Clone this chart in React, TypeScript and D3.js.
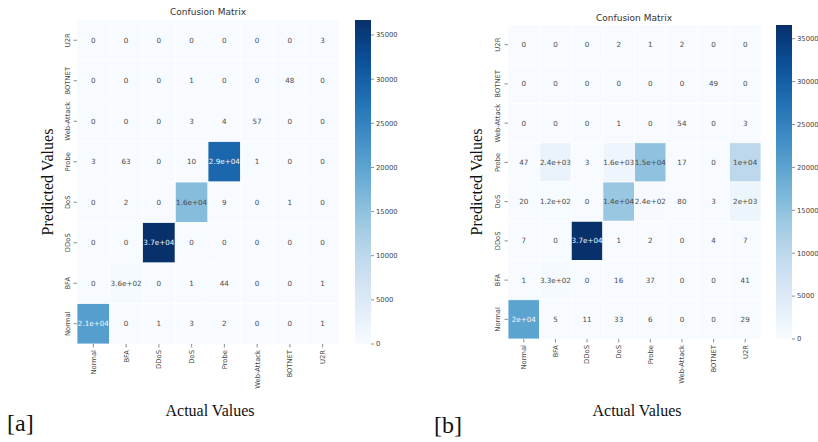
import React from "react";
import * as d3 from "d3";

const actualLabels = ["Normal", "BFA", "DDoS", "DoS", "Probe", "Web-Attack", "BOTNET", "U2R"];
const predictedLabels = ["U2R", "BOTNET", "Web-Attack", "Probe", "DoS", "DDoS", "BFA", "Normal"];
const colorbarTicks = [0, 5000, 10000, 15000, 20000, 25000, 30000, 35000];

// rows: predicted (top to bottom), cols: actual
const matrixA = [
  [0, 0, 0, 0, 0, 0, 0, 3],
  [0, 0, 0, 1, 0, 0, 48, 0],
  [0, 0, 0, 3, 4, 57, 0, 0],
  [3, 63, 0, 10, 28900, 1, 0, 0],
  [0, 2, 0, 15800, 9, 0, 1, 0],
  [0, 0, 36700, 0, 0, 0, 0, 0],
  [0, 360, 0, 1, 44, 0, 0, 1],
  [20900, 0, 1, 3, 2, 0, 0, 1],
];
const matrixB = [
  [0, 0, 0, 2, 1, 2, 0, 0],
  [0, 0, 0, 0, 0, 0, 49, 0],
  [0, 0, 0, 1, 0, 54, 0, 3],
  [47, 2400, 3, 1600, 15000, 17, 0, 10000],
  [20, 120, 0, 14000, 240, 80, 3, 2000],
  [7, 0, 36600, 1, 2, 0, 4, 7],
  [1, 330, 0, 16, 37, 0, 0, 41],
  [20000, 5, 11, 33, 6, 0, 0, 29],
];

function fmt2g(v: number): string {
  if (v === 0) return "0";
  const ex = v.toExponential(1);
  const [m, e] = ex.split("e");
  const en = parseInt(e, 10);
  if (en < -4 || en >= 2) {
    const mant = m.replace(/\.0$/, "");
    const sign = en < 0 ? "-" : "+";
    const abs = Math.abs(en);
    return `${mant}e${sign}${abs < 10 ? "0" + abs : abs}`;
  }
  let s = v.toPrecision(2);
  if (s.includes(".")) s = s.replace(/0+$/, "").replace(/\.$/, "");
  return s;
}

function luminance(c: string): number {
  const rgb = d3.rgb(c);
  const lin = (x: number) => {
    const s = x / 255;
    return s <= 0.03928 ? s / 12.92 : Math.pow((s + 0.055) / 1.055, 2.4);
  };
  return 0.2126 * lin(rgb.r) + 0.7152 * lin(rgb.g) + 0.0722 * lin(rgb.b);
}

const sans = "DejaVu Sans, sans-serif";
const serif = "Liberation Serif, Times New Roman, serif";

type PanelProps = {
  id: string;
  data: number[][];
  left: number;
  top: number;
  width: number;
  height: number;
  cbX: number;
  cbW: number;
  titleX: number;
  titleY: number;
  ylabX: number;
  yTitleX: number;
  xTitleX: number;
  tag: string;
  tagX: number;
  tagY: number;
};

function Panel(p: PanelProps) {
  const vmax = d3.max(p.data.flat()) as number;
  const color = d3.scaleSequential(d3.interpolateBlues).domain([0, vmax]);
  const x = d3.scaleBand<string>().domain(actualLabels).range([p.left, p.left + p.width]);
  const y = d3.scaleBand<string>().domain(predictedLabels).range([p.top, p.top + p.height]);
  const cbY = d3.scaleLinear().domain([0, vmax]).range([p.top + p.height, p.top]);
  const stops = d3.range(0, 1.0001, 0.05);
  const bottom = p.top + p.height;
  return (
    <g>
      <defs>
        <linearGradient id={`grad-${p.id}`} x1="0" y1="1" x2="0" y2="0">
          {stops.map((t) => (
            <stop key={t} offset={t} stopColor={d3.interpolateBlues(t)} />
          ))}
        </linearGradient>
      </defs>
      <text x={p.titleX} y={p.titleY} fontFamily={sans} fontSize={9} textAnchor="middle" fill="#333">
        Confusion Matrix
      </text>
      {p.data.map((row, i) =>
        row.map((v, j) => {
          const c = color(v);
          const cx = (x(actualLabels[j]) as number) + x.bandwidth() / 2;
          const cy = (y(predictedLabels[i]) as number) + y.bandwidth() / 2;
          return (
            <g key={`${i}-${j}`}>
              <rect
                x={x(actualLabels[j])}
                y={y(predictedLabels[i])}
                width={x.bandwidth()}
                height={y.bandwidth()}
                fill={c}
                stroke="#fdfeff"
                strokeWidth={0.8}
              />
              <text
                x={cx}
                y={cy}
                dy="0.35em"
                textAnchor="middle"
                fontFamily={sans}
                fontSize={7.2}
                fill={luminance(c) > 0.408 ? "#4a4a4a" : "#f4f8fc"}
              >
                {fmt2g(v)}
              </text>
            </g>
          );
        })
      )}
      {predictedLabels.map((l) => {
        const cy = (y(l) as number) + y.bandwidth() / 2;
        return (
          <g key={l}>
            <line x1={p.left - 3.5} x2={p.left} y1={cy} y2={cy} stroke="#444" strokeWidth={0.6} />
            <text
              transform={`translate(${p.ylabX},${cy}) rotate(-90)`}
              dy="0.35em"
              textAnchor="middle"
              fontFamily={sans}
              fontSize={6.8}
              fill="#444"
            >
              {l}
            </text>
          </g>
        );
      })}
      {actualLabels.map((l) => {
        const cx = (x(l) as number) + x.bandwidth() / 2;
        return (
          <g key={l}>
            <line x1={cx} x2={cx} y1={bottom} y2={bottom + 3.5} stroke="#444" strokeWidth={0.6} />
            <text
              transform={`translate(${cx},${bottom + 6}) rotate(-90)`}
              dy="0.35em"
              textAnchor="end"
              fontFamily={sans}
              fontSize={6.8}
              fill="#444"
            >
              {l}
            </text>
          </g>
        );
      })}
      <rect x={p.cbX} y={p.top} width={p.cbW} height={p.height} fill={`url(#grad-${p.id})`} />
      {colorbarTicks.map((t) => (
        <g key={t}>
          <line x1={p.cbX + p.cbW} x2={p.cbX + p.cbW + 3} y1={cbY(t)} y2={cbY(t)} stroke="#444" strokeWidth={0.6} />
          <text x={p.cbX + p.cbW + 5} y={cbY(t)} dy="0.35em" fontFamily={sans} fontSize={6.8} fill="#444">
            {t}
          </text>
        </g>
      ))}
      <text
        transform={`translate(${p.yTitleX},${p.top + p.height / 2}) rotate(-90)`}
        textAnchor="middle"
        fontFamily={serif}
        fontSize={16}
        fill="#111"
      >
        Predicted Values
      </text>
      <text x={p.xTitleX} y={416} textAnchor="middle" fontFamily={serif} fontSize={16} fill="#111">
        Actual Values
      </text>
      <text x={p.tagX} y={p.tagY} fontFamily={serif} fontSize={24} fill="#111">
        {p.tag}
      </text>
    </g>
  );
}

export default function App() {
  return (
    <svg width={818} height={442} style={{ position: "absolute", left: 0, top: 0, background: "white" }}>
      <rect width={818} height={442} fill="white" />
      <Panel
        id="a"
        data={matrixA}
        left={77}
        top={20}
        width={262}
        height={324}
        cbX={355}
        cbW={16}
        titleX={208}
        titleY={15}
        ylabX={68}
        yTitleX={53}
        xTitleX={210}
        tag="[a]"
        tagX={7}
        tagY={431}
      />
      <Panel
        id="b"
        data={matrixB}
        left={508}
        top={25}
        width={253}
        height={314}
        cbX={776}
        cbW={16}
        titleX={634}
        titleY={21}
        ylabX={498}
        yTitleX={482}
        xTitleX={637}
        tag="[b]"
        tagX={434}
        tagY={433}
      />
    </svg>
  );
}
